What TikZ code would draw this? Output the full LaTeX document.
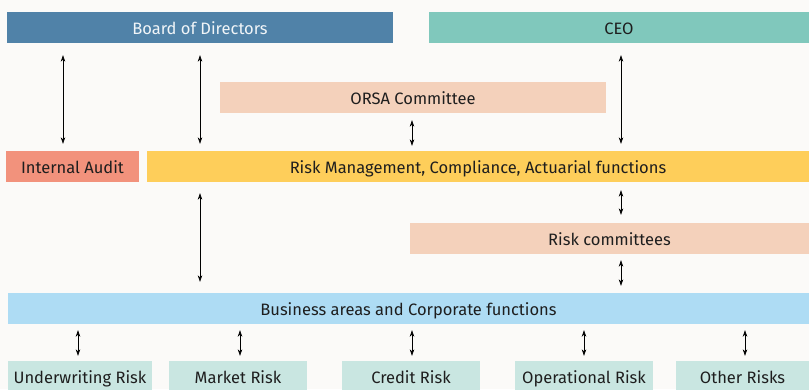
\documentclass[tikz,border=0pt]{standalone}
\usepackage{fontspec}
\setmainfont{Fira Sans}
\definecolor{fond}{RGB}{251,250,248}
\definecolor{conseil}{RGB}{80,130,168}
\definecolor{direction}{RGB}{128,200,188}
\definecolor{comite}{RGB}{244,209,187}
\definecolor{audit}{RGB}{242,146,124}
\definecolor{risque}{RGB}{254,206,90}
\definecolor{metier}{RGB}{174,220,244}
\definecolor{famille}{RGB}{201,230,225}
\definecolor{texte}{RGB}{30,30,30}
\usetikzlibrary{arrows.meta}

\begin{document}
\begin{tikzpicture}[x=1pt,y=-1pt,font=\fontsize{16.5}{18}\selectfont,
	bloc/.style={minimum height=31pt,inner sep=0pt,text height=13pt,text depth=0pt,text=texte},
	liaison/.style={{Stealth[length=6.5pt,width=4.5pt]}-{Stealth[length=6.5pt,width=4.5pt]},semithick}]
	\useasboundingbox[fill=fond] (0,0) rectangle (809,389);
	\node[bloc,fill=conseil,text=white!92!conseil,minimum width=386pt] (board) at (200,27.5) {Board of Directors};
	\node[bloc,fill=direction,minimum width=380pt] (ceo) at (619,27.5) {CEO};
	\node[bloc,fill=comite,minimum width=386pt] (orsa) at (413,97.5) {ORSA Committee};
	\node[bloc,fill=audit,minimum width=133pt] (ia) at (72.5,166.5) {Internal Audit};
	\node[bloc,fill=risque,minimum width=662pt] (rm) at (478,166.5) {Risk Management, Compliance, Actuarial functions};
	\node[bloc,fill=comite,minimum width=399pt] (rc) at (609.5,238.5) {Risk committees};
	\node[bloc,fill=metier,minimum width=801pt] (ba) at (408.5,308.5) {Business areas and Corporate functions};
	\node[bloc,fill=famille,minimum width=144pt] (uw) at (80,376.5) {Underwriting Risk};
	\node[bloc,fill=famille,minimum width=138pt] (mk) at (238,376.5) {Market Risk};
	\node[bloc,fill=famille,minimum width=138pt] (cr) at (411,376.5) {Credit Risk};
	\node[bloc,fill=famille,minimum width=138pt] (op) at (584,376.5) {Operational Risk};
	\node[bloc,fill=famille,minimum width=133pt] (ot) at (742.5,376.5) {Other Risks};
	% positions des fleches
	\coordinate (x1) at (63,0);
	\coordinate (x2) at (200,0);
	\coordinate (x3) at (621,0);
	\coordinate (x4) at (412,0);
	\draw[liaison,shorten <=12pt,shorten >=7pt] (board.south -| x1) -- (ia.north -| x1);
	\draw[liaison,shorten <=12pt,shorten >=7pt] (board.south -| x2) -- (rm.north -| x2);
	\draw[liaison,shorten <=12pt,shorten >=7pt] (ceo.south -| x3) -- (rm.north -| x3);
	\draw[liaison,shorten <=7pt,shorten >=5pt] (orsa.south -| x4) -- (rm.north -| x4);
	\draw[liaison,shorten <=11pt,shorten >=11pt] (rm.south -| x2) -- (ba.north -| x2);
	\draw[liaison,shorten <=8pt,shorten >=8pt] (rm.south -| x3) -- (rc.north -| x3);
	\draw[liaison,shorten <=6pt,shorten >=7pt] (rc.south -| x3) -- (ba.north -| x3);
	\foreach \b/\x in {uw/78,mk/240,cr/412,op/584,ot/745}
		\draw[liaison,shorten <=6pt,shorten >=5pt] (ba.south -| \x,0) -- (\b.north -| \x,0);
\end{tikzpicture}
\end{document}
